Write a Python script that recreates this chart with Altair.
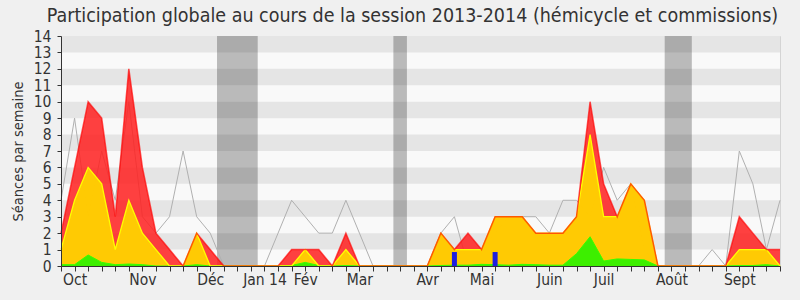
import altair as alt
import pandas as pd

# ---- data (weekly values, session 2013-2014) ----
weeks = list(range(54))
grey_total = [4, 9, 3, 7, 4, 10, 3, 2, 3, 7, 3, 2, 0, 0, 0, 0, 2, 4, 3, 2,
              2, 4, 2, 0, 0, 0, 0, 0, 2, 3, 0, 1, 2, 3, 3, 3, 2, 4, 4, 3,
              6, 4, 5, 1, 0, 0, 0, 0, 1, 0, 7, 5, 1, 4]
red_vals = [2, 6, 10, 9, 3, 12, 6, 2, 1, 0, 2, 1, 0, 0, 0, 0, 0, 1, 1, 1,
            0, 2, 0, 0, 0, 0, 0, 0, 2, 1, 2, 1, 3, 3, 3, 2, 2, 2, 3, 10,
            5, 3, 5, 4, 0, 0, 0, 0, 0, 0, 3, 2, 1, 1]
yellow_vals = [1, 4, 6, 5, 1, 4, 2, 1, 0, 0, 2, 0, 0, 0, 0, 0, 0, 0, 1, 0,
               0, 1, 0, 0, 0, 0, 0, 0, 2, 1, 1, 1, 3, 3, 3, 2, 2, 2, 3, 8,
               3, 3, 5, 4, 0, 0, 0, 0, 0, 0, 1, 1, 1, 0]
green_vals = [0.08, 0.08, 0.67, 0.22, 0.08, 0.12, 0.08, 0, 0, 0, 0.08, 0, 0, 0, 0, 0, 0, 0.03, 0.22, 0.03,
              0, 0.03, 0, 0, 0, 0, 0, 0, 0.03, 0.05, 0.05, 0.1, 0.08, 0.05, 0.1, 0.08, 0.05, 0.05, 0.75, 1.78,
              0.3, 0.43, 0.4, 0.37, 0, 0, 0, 0, 0, 0, 0.03, 0.03, 0.08, 0]
blue_weeks = [29, 32]
blue_vals = [0.85, 0.85]
vac_start = [11.5, 24.5, 44.5]
vac_end = [14.5, 25.5, 46.5]
month_weeks = [1, 6, 11, 15, 18, 22, 27, 31, 36, 40, 45, 50]
month_names = ["Oct", "Nov", "Déc", "Jan 14", "Fév", "Mar", "Avr", "Mai",
               "Juin", "Juil", "Août", "Sept"]
y_ticks = list(range(15))
stripe_lo = [1, 3, 5, 7, 9, 11, 13]

FONT = "DejaVu Sans Condensed, DejaVu Sans"
TXT = "#333333"

df = pd.DataFrame({"week": weeks, "total": grey_total, "red": red_vals,
                   "yellow": yellow_vals, "green": green_vals})
df_blue = pd.DataFrame({"week": blue_weeks, "val": blue_vals})
df_vac = pd.DataFrame({"start": vac_start, "end": vac_end, "lo": 0, "hi": 14})
df_str = pd.DataFrame({"lo": stripe_lo, "hi": [v + 1 for v in stripe_lo], "x0": 0, "x1": 53})
df_bg = pd.DataFrame({"lo": [0], "hi": [14], "x0": [0], "x1": [53]})

xs = alt.Scale(domain=[0, 53], nice=False, zero=False, padding=0)
ys = alt.Scale(domain=[0, 14], nice=False, zero=True, padding=0)

label_expr = " : ".join(
    f"datum.value == {w} ? '{n}'" for w, n in zip(month_weeks, month_names)
) + " : ''"

x_axis = alt.Axis(values=weeks, labelExpr=label_expr, labelOverlap=False,
                  title=None, grid=False, tickSize=5, tickColor=TXT,
                  domainColor=TXT, labelColor=TXT, labelFontSize=15.5,
                  labelFont=FONT, labelPadding=1, zindex=1, labelFlush=False)
y_axis = alt.Axis(values=y_ticks, title="Séances par semaine", grid=False,
                  tickSize=4, tickColor=TXT, domainColor=TXT, labelColor=TXT,
                  labelFontSize=15.5, labelFont=FONT, labelPadding=6,
                  titleFont=FONT, titleFontSize=14.5, titleFontWeight="normal",
                  titleColor=TXT, titlePadding=8, zindex=1)


def X(field):
    return alt.X(field, type="quantitative", scale=xs, axis=x_axis)


def Y(field):
    return alt.Y(field, type="quantitative", scale=ys, axis=y_axis)


bg = alt.Chart(df_bg).mark_rect(color="#f9f9f9").encode(
    x=X("x0"), x2="x1", y=Y("lo"), y2="hi")

stripes = alt.Chart(df_str).mark_rect(color="#e5e5e5").encode(
    x=X("x0"), x2="x1", y=Y("lo"), y2="hi")

vac = alt.Chart(df_vac).mark_rect(color="#000000", opacity=0.25).encode(
    x=X("start"), x2="end", y=Y("lo"), y2="hi")

base = alt.Chart(df).encode(x=X("week"))

grey_line = base.mark_line(color="#b0b0b0", strokeWidth=1).encode(y=Y("total"))
red_area = base.mark_area(color="#ff2020", opacity=0.85).encode(y=Y("red"))
yellow_area = base.mark_area(color="#ffd200", opacity=0.95).encode(y=Y("yellow"))
green_area = base.mark_area(color="#33f000", opacity=0.95).encode(y=Y("green"))
yellow_line = base.mark_line(color="#ffff00", strokeWidth=1.3).encode(y=Y("yellow"))
green_line = base.mark_line(color="#33ff00", strokeWidth=1).encode(y=Y("green"))
red_line = base.mark_line(color="#ff0000", strokeWidth=1.5, opacity=0.65).encode(y=Y("red"))

blue = alt.Chart(df_blue).mark_bar(color="#1e1ee0", size=5).encode(
    x=X("week"), y=Y("val"))

chart = alt.layer(
    bg, stripes, vac, grey_line, red_area, yellow_area, green_area,
    green_line, yellow_line, red_line, blue
).properties(
    width=719, height=230,
    title=alt.TitleParams(
        "Participation globale au cours de la session 2013-2014 (hémicycle et commissions)",
        font=FONT, fontSize=19.5, fontWeight="normal", color=TXT,
        anchor="middle", dx=-8, offset=3),
    autosize=alt.AutoSizeParams(type="none"),
    padding={"left": 61, "top": 36, "right": 20, "bottom": 34},
    background="#f0f0f0",
).configure_view(stroke="#d4d4d4", strokeWidth=1)

chart.save("out.html", embed_options={"renderer": "svg", "actions": False})
